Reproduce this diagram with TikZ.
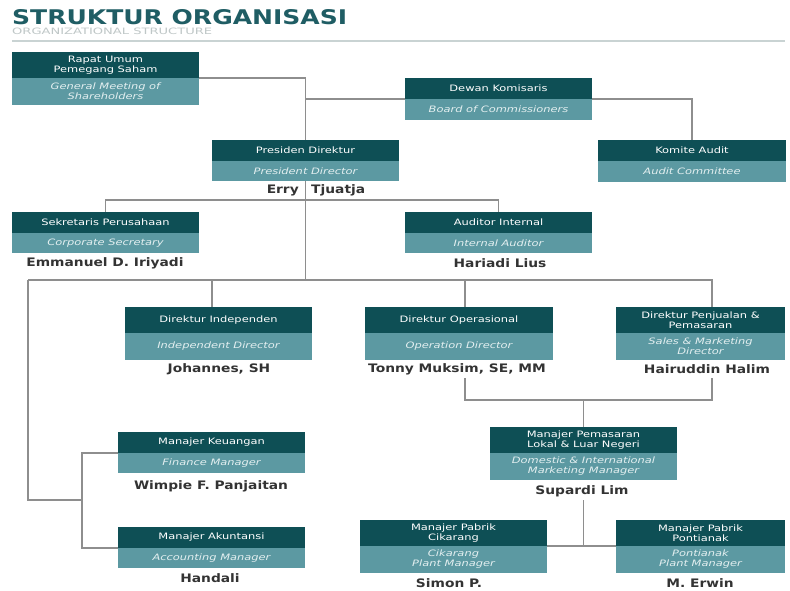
\documentclass[tikz,border=0pt]{standalone}
\usepackage{graphicx}
\usepackage{fontspec}
\setmainfont{DejaVu Sans}
\newfontfamily\widefont[FakeStretch=1.18]{DejaVu Sans}
\newfontfamily\boxfont[FakeStretch=1.3]{DejaVu Sans}
\usetikzlibrary{calc}
\definecolor{dark}{HTML}{0E4F55}
\definecolor{light}{HTML}{5C99A2}
\definecolor{titlec}{HTML}{1F5D64}
\definecolor{subc}{HTML}{BFC7C7}
\definecolor{linec}{HTML}{8E8E8E}
\definecolor{namec}{HTML}{333333}
\definecolor{rulec}{HTML}{C9D3D3}
\definecolor{lighttext}{HTML}{E3EFF0}
\tikzset{
  topbox/.style={fill=dark, text=white, inner sep=0pt, outer sep=0pt, anchor=north west, align=center,
    font=\boxfont\fontsize{8.8}{10}\selectfont},
  botbox/.style={fill=light, text=lighttext, inner sep=0pt, outer sep=0pt, anchor=north west, align=center,
    font=\boxfont\itshape\fontsize{8.8}{10}\selectfont},
  person/.style={font=\widefont\bfseries\fontsize{11.7}{13}\selectfont, text=namec, inner sep=0pt},
  conn/.style={draw=linec, line width=1.2pt},
}
\newcommand\orgbox[8]{%
  \node[topbox, minimum width=#4pt, minimum height=#5pt] (#1t) at (#2,#3) {#7};
  \node[botbox, minimum width=#4pt, minimum height=#6pt] (#1b) at (#1t.south west) {#8};
}
\begin{document}
\begin{tikzpicture}[x=1pt,y=-1pt]
\useasboundingbox[fill=white] (0,0) rectangle (790,591);
% title
\node[anchor=base west, inner sep=0pt, text=titlec] (title) at (12,25)
  {\resizebox{335pt}{15pt}{\bfseries STRUKTUR ORGANISASI}};
\node[anchor=base west, inner sep=0pt, text=subc] (subtitle) at (12,35)
  {\resizebox{200pt}{6.5pt}{ORGANIZATIONAL STRUCTURE}};
\coordinate (rl) at (12,41);
\coordinate (rr) at (785,41);
\draw[rulec, line width=1.6pt] (rl) -- (rr);
% boxes
\orgbox{rups}{12}{52}{187}{26}{27}{Rapat Umum\\Pemegang Saham}{General Meeting of\\Shareholders}
\orgbox{dk}{405}{78}{187}{21}{21}{Dewan Komisaris}{Board of Commissioners}
\orgbox{pd}{212}{140}{187}{21}{20}{Presiden Direktur}{President Director}
\orgbox{ka}{598}{140}{188}{21}{21}{Komite Audit}{Audit Committee}
\orgbox{ss}{12}{212}{187}{21}{20}{Sekretaris Perusahaan}{Corporate Secretary}
\orgbox{ai}{405}{212}{187}{21}{20}{Auditor Internal}{Internal Auditor}
\orgbox{di}{125}{307}{187}{26}{27}{Direktur Independen}{Independent Director}
\orgbox{do}{365}{307}{188}{26}{27}{Direktur Operasional}{Operation Director}
\orgbox{dp}{616}{307}{169}{26}{27}{Direktur Penjualan \&\\Pemasaran}{Sales \& Marketing\\Director}
\orgbox{mk}{118}{432}{187}{21}{20}{Manajer Keuangan}{Finance Manager}
\orgbox{ma}{118}{527}{187}{21}{20}{Manajer Akuntansi}{Accounting Manager}
\orgbox{mp}{490}{427}{187}{26}{27}{Manajer Pemasaran\\Lokal \& Luar Negeri}{Domestic \& International\\Marketing Manager}
\orgbox{mc}{360}{520}{187}{26}{27}{Manajer Pabrik\\Cikarang}{Cikarang\\Plant Manager}
\orgbox{mt}{616}{520}{169}{26}{27}{Manajer Pabrik\\Pontianak}{Pontianak\\Plant Manager}
% names
\node[person, anchor=east] (erry) at (299,190) {Erry};
\node[person, anchor=west] (tjuatja) at (311,190) {Tjuatja};
\node[person] (emmanuel) at (105,263) {Emmanuel D. Iriyadi};
\node[person] (hariadi) at (500,263) {Hariadi Lius};
\node[person] (johannes) at (219,369) {Johannes, SH};
\node[person] (tonny) at (457,369) {Tonny Muksim, SE, MM};
\node[person] (hairuddin) at (707,369) {Hairuddin Halim};
\node[person] (wimpie) at (211,486) {Wimpie F. Panjaitan};
\node[person] (handali) at (210,578) {Handali};
\node[person] (supardi) at (582,491) {Supardi Lim};
\node[person] (simon) at (449,583.5) {Simon P.};
\node[person] (erwin) at (700,583.5) {M. Erwin};
% junction coordinates
\coordinate (j1) at (305.5,200);
\coordinate (j2) at (305.5,280);
\coordinate (bl) at (28,280);
\coordinate (br) at (712,280);
\coordinate (diin) at (212,307);
\coordinate (doin) at (465,307);
\coordinate (dpin) at (712,307);
\coordinate (l1) at (28,500);
\coordinate (l2) at (82,500);
\coordinate (l3) at (82,453);
\coordinate (l4) at (82,548);
\coordinate (doout) at (465,378);
\coordinate (dpout) at (712,378);
\coordinate (m1) at (465,400);
\coordinate (m2) at (712,400);
\coordinate (m3) at (583.5,400);
\coordinate (sp) at (583.5,500);
\coordinate (sp2) at (583.5,546);
% connectors
\draw[conn] (rupst.south east) -| (pdt.north);
\draw[conn] (dkt.south west) -- (dkt.south west -| pdt.north);
\draw[conn] (dkt.south east) -| (kat.north);
\draw[conn] (pdb.south) -- (j2);
\draw[conn] (sst.north) |- (j1) -| (ait.north);
\draw[conn] (bl) -- (br) -- (dpin);
\draw[conn] (diin |- bl) -- (diin);
\draw[conn] (doin |- bl) -- (doin);
\draw[conn] (bl) -- (l1) -- (l2);
\draw[conn] (mkt.south west) -- (l3) -- (l4) -- (mat.south west);
\draw[conn] (doout) -- (m1) -- (m2) -- (dpout);
\draw[conn] (m3) -- (mpt.north);
\draw[conn] (sp) -- (sp2);
\draw[conn] (mct.south east) -- (mtt.south west);
\end{tikzpicture}
\end{document}
